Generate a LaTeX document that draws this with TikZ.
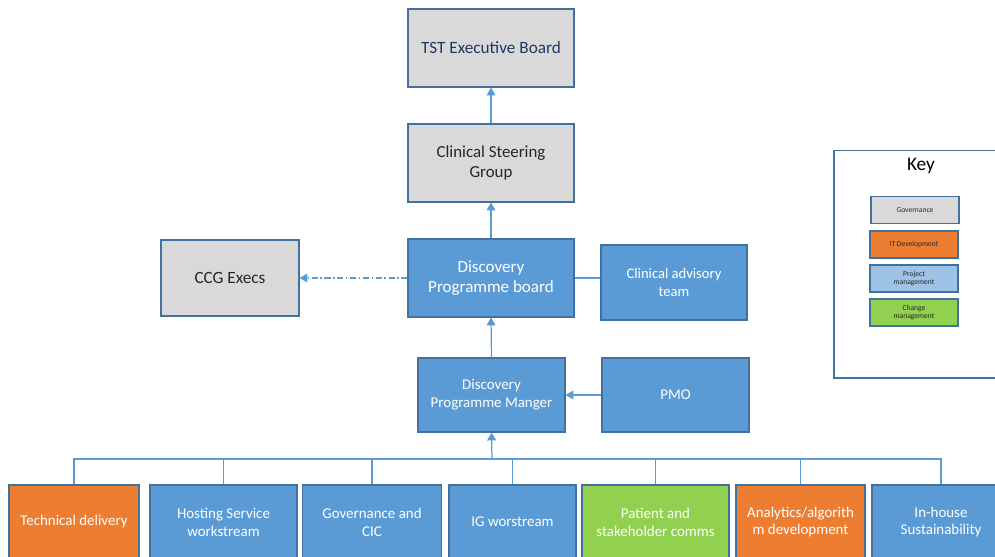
\documentclass[tikz,border=0pt]{standalone}
\usepackage{fontspec}
\setmainfont{Carlito}
\usetikzlibrary{arrows.meta}
\definecolor{gov}{HTML}{D9D9D9}
\definecolor{pm}{HTML}{5B9BD5}
\definecolor{itd}{HTML}{ED7D31}
\definecolor{chg}{HTML}{92D050}
\definecolor{lpm}{HTML}{9DC3E6}
\definecolor{bord}{HTML}{41719C}
\definecolor{conn}{HTML}{5B9BD5}
\definecolor{navy}{HTML}{1F3864}
\definecolor{dtext}{HTML}{262626}
\tikzset{
  box/.style={draw=bord, line width=0.6pt, inner sep=0pt, align=center},
  govbox/.style={box, fill=gov, text=dtext},
  pmbox/.style={box, fill=pm, text=white},
  itbox/.style={box, fill=itd, text=white},
  chbox/.style={box, fill=chg, text=white},
  conn/.style={draw=conn, line width=0.7pt},
  arr/.style={conn, -{Triangle[width=5pt,length=4.5pt]}},
  keyitem/.style={box, minimum width=1.76cm, minimum height=0.54cm, font=\fontsize{4.3}{5}\selectfont, text=dtext},
}
\begin{document}
\begin{tikzpicture}[x=0.02cm,y=-0.02cm]
\useasboundingbox (0,0) rectangle (995,556);
\clip (0,0) rectangle (995,556);
% top chain
\node[govbox, text=navy, minimum width=3.32cm, minimum height=1.56cm, font=\fontsize{9.8}{11}\selectfont] (tst) at (491,48) {TST Executive Board};
\node[govbox, minimum width=3.32cm, minimum height=1.56cm, font=\fontsize{9.6}{11.3}\selectfont] (csg) at (491,163) {Clinical Steering\\Group};
\node[govbox, minimum width=2.76cm, minimum height=1.52cm, font=\fontsize{9.8}{11}\selectfont] (ccg) at (230,278) {CCG Execs};
\node[pmbox, minimum width=3.32cm, minimum height=1.56cm, font=\fontsize{9.7}{11.3}\selectfont] (dpb) at (491,278) {Discovery\\Programme board};
\node[pmbox, minimum width=2.92cm, minimum height=1.5cm, font=\fontsize{8.3}{10.2}\selectfont] (cat) at (674,282.5) {Clinical advisory\\team};
\node[pmbox, minimum width=2.94cm, minimum height=1.48cm, font=\fontsize{8.5}{10.2}\selectfont] (dpm) at (491.5,395) {Discovery\\Programme Manger};
\node[pmbox, minimum width=2.94cm, minimum height=1.48cm, font=\fontsize{8.5}{10}\selectfont] (pmo) at (675.5,395) {PMO};
% key
\node[draw=bord, line width=0.6pt, fill=white, minimum width=3.44cm, minimum height=4.56cm, inner sep=0pt] (key) at (920,264) {};
\node[font=\fontsize{11}{13}\selectfont, text=black] (keyt) at (921,166) {Key};
\node[keyitem, fill=gov] (kg) at (915,210) {Governance};
\node[keyitem, fill=itd] (ki) at (914,244.5) {IT Development};
\node[keyitem, fill=lpm] (kp) at (914,278.5) {Project\\management};
\node[keyitem, fill=chg] (kc) at (914,312.5) {Change\\management};
% bottom row
\tikzset{bot/.style={minimum height=1.48cm, font=\fontsize{8.5}{10.2}\selectfont}}
\node[itbox, bot, minimum width=2.6cm] (td) at (74,522) {Technical delivery};
\node[pmbox, bot, minimum width=2.94cm] (hs) at (223.5,522) {Hosting Service\\workstream};
\node[pmbox, bot, minimum width=2.78cm] (gc) at (372,522) {Governance and\\CIC};
\node[pmbox, bot, minimum width=2.54cm] (ig) at (512.5,522) {IG worstream};
\node[chbox, bot, minimum width=2.94cm] (ps) at (655.5,522) {Patient and\\stakeholder comms};
\node[itbox, bot, minimum width=2.58cm] (an) at (800.5,522) {Analytics/algorith\\m development};
\node[pmbox, bot, minimum width=2.76cm] (ih) at (941,522) {In-house\\Sustainability};
% connectors
\draw[arr] (csg.north) -- (tst.south);
\draw[arr] (dpb.north) -- (csg.south);
\draw[arr] (dpm.north) -- (dpb.south);
\draw[arr] (pmo.west) -- (dpm.east);
\draw[conn] (cat.west |- dpb.east) -- (dpb.east);
\draw[arr, dash pattern=on 3.5pt off 1.5pt on 0.8pt off 1.5pt] (dpb.west) -- (ccg.east);
\coordinate (bus) at (492,459);
\foreach \b in {td,hs,gc,ig,ps,an,ih}{\draw[conn] (\b.north) |- (bus);}
\draw[arr] (bus) -- (dpm.south);
\end{tikzpicture}
\end{document}
